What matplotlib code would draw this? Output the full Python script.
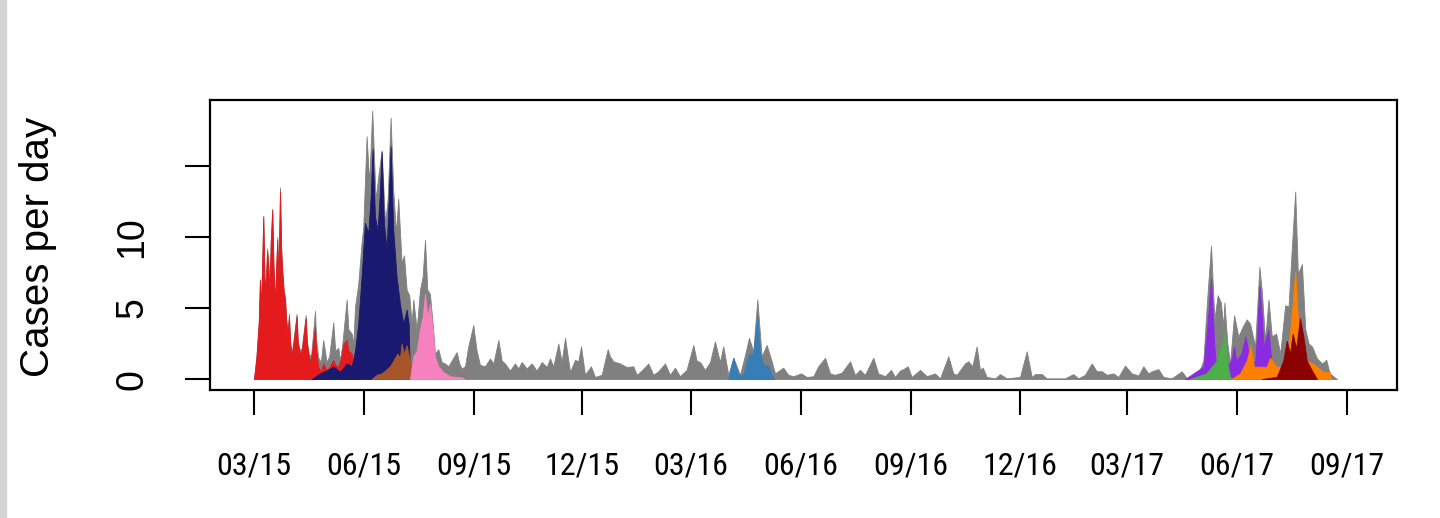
import numpy as np
import matplotlib
matplotlib.use("Agg")
import matplotlib.pyplot as plt
import matplotlib.dates as mdates
from matplotlib import font_manager as fm
from matplotlib.patches import Rectangle

plt.rcParams['font.family'] = ['Liberation Sans', 'DejaVu Sans']

start = np.datetime64('2015-03-01')

# daily case curves: days since 2015-03-01 and cases per day
total_days = [0, 2, 4, 5, 6, 7.8, 8.8, 9.8, 11, 12, 13, 14, 15.3, 16.3, 17.6, 18.5, 19.5, 20.5, 21.8, 22.8,
              23.7, 25, 26, 27, 28.2, 29.3, 30.3, 31.5, 33, 35.7, 36.7, 38.5, 40, 43.3, 44.3, 46.3, 48, 51.1,
              52, 53.9, 56, 58, 60.8, 63, 66.4, 68, 70.6, 72, 74, 77.6, 79, 81.8, 83.2, 84.6, 87.3, 90.1,
              91.5, 94.3, 96.5, 99, 101.9, 104.1, 106.9, 109.7, 111.9, 114.4, 116.6, 118.9, 120.8, 123.6,
              125.6, 127.8, 130, 132, 133.4, 136.2, 139, 141.2, 143.2, 145.1, 147.3, 149.6, 151.5, 154.3,
              157.1, 159.9, 162.7, 165.5, 169.7, 171.9, 173.9, 176.7, 179.4, 183.6, 186.4, 189.2, 193.4,
              197.6, 200.4, 204.6, 207.4, 210.1, 214.3, 218.5, 221.3, 224.1, 228.3, 232.5, 236.7, 240.9,
              245.1, 247.8, 250.6, 254.8, 257.6, 260.4, 264.6, 268.7, 271.5, 273.8, 277.1, 282.1, 285.5,
              291.1, 296.1, 298, 300.8, 306.4, 312, 317.6, 320.4, 324.6, 330.1, 334.3, 338.5, 344.1, 348.3,
              352.4, 356.6, 362.2, 367.8, 370.6, 373.4, 377.6, 381.8, 385.9, 390.1, 392.9, 397.1, 401.3,
              406.9, 411.1, 414.4, 418, 421.4, 425, 429.2, 433.4, 436.2, 443.1, 447.3, 451.5, 458, 462.7,
              468.3, 472.4, 478.1, 482.2, 486.4, 492, 499, 503.1, 507.3, 511.5, 518.5, 522.6, 528.3, 533.3,
              536.6, 540.8, 543.6, 547.3, 550.6, 557.6, 563.2, 570.1, 574.3, 581.3, 585.4, 588.3, 595.2,
              598, 601.4, 605, 607.8, 610.1, 613.4, 620.4, 624.5, 630.2, 641.3, 646.9, 651.1, 653.9, 659.5,
              663.7, 678.9, 685.9, 690.1, 695.7, 701.3, 705.5, 709.7, 713.9, 719.5, 723.6, 729.2, 734.8,
              740.4, 744.5, 748.7, 751.6, 757.1, 761.3, 768.3, 776.7, 780.9, 785.1, 790.7, 794.8, 798.1,
              801.2, 804, 806.8, 809.4, 811.5, 812.4, 814.9, 817.1, 820.5, 824.1, 827.8, 831.1, 833.9,
              838.1, 841.7, 843.7, 846.5, 849.3, 852.1, 855.7, 859.1, 863.3, 866.1, 868.9, 871.7, 873.9,
              877.3, 880.1, 882.9, 885.7, 889.9, 894.1, 897.7, 900.5, 906.6]
total_vals = [0, 1.5, 4, 7, 5, 11.5, 7.2, 6.7, 9.2, 8.2, 6.2, 9.7, 12.0, 8.2, 5.4, 7.7, 10, 7.2, 13.5, 9.2,
              7.7, 6.2, 5.8, 4.2, 3.4, 4.6, 2.7, 1.8, 2.7, 4.6, 2.7, 2.0, 2.2, 4.5, 2.7, 1.6, 1.8, 4.8,
              2.8, 1.5, 1.2, 2.75, 1.2, 1.6, 4.0, 2.0, 2.2, 1.3, 2.5, 5.6, 3.5, 3.2, 2.5, 5.1, 6.7, 9.6,
              10.7, 17.1, 13.8, 18.9, 12.6, 14.3, 16.1, 11.0, 12.6, 18.4, 13.3, 10.3, 12.7, 8.2,
              8.7, 6.3, 5.9, 3.9, 5.6, 3.5, 6.3, 7.2, 9.8, 6.3, 6.0, 3.9, 1.8, 2.1,
              1.2, 1.1, 0.9, 1.3, 1.9, 1.1, 0.75, 0.9, 2.3, 3.8, 2.0, 1.0, 0.9,
              1.45, 1.1, 2.75, 1.3, 1.1, 0.6, 1.1, 0.75, 1.2, 0.75, 1.1, 0.6, 1.2,
              0.85, 1.45, 0.9, 2.5, 1.2, 2.9, 0.5, 1.35, 1.25, 2.3, 0.3, 0.9, 0.15,
              0.3, 2.1, 1.6, 1.25, 1.1, 0.85, 0.9, 0.3, 0.6, 1.1, 0.3, 0.55, 1.1, 0.3,
              0.8, 0.2, 0.65, 2.4, 1.3, 1.2, 0.65, 1.2, 2.65, 1.2, 2.3, 0.3, 1.5,
              0.3, 1.7, 2.9, 1.95, 5.6, 1.6, 2.4, 1.25, 0.4, 0.8, 0.3, 0.2, 0.4, 0.15,
              0.2, 0.9, 1.5, 0.4, 0.3, 0.45, 1.25, 0.3, 0.65, 0.3, 1.5, 0.4, 0.2, 0.65,
              0.15, 0.6, 0.7, 0.9, 0.15, 0.65, 0.2, 0.4, 0.05, 1.6, 0.4, 0.3, 1.1,
              1.25, 0.9, 2.3, 0.65, 0.8, 0.15, 0.05, 0.35, 0.05, 0.15, 1.95, 0.15, 0.35, 0.35,
              0.05, 0.05, 0.35, 0.05, 0.3, 1.1, 0.55, 0.55, 0.3, 0.4, 0.15, 0.95, 0.4,
              0.25, 0.9, 0.4, 0.55, 0.7, 0.15, 0.05, 0.55, 0.05, 0.05, 0.4, 1.3, 5.8,
              9.4, 4.2, 5.9, 5.4, 3.7, 5.4, 2.5, 1.1, 4.5, 3.0, 3.7, 4.2, 3.9,
              2.3, 7.9, 6.2, 2.7, 5.6, 3.0, 3.2, 1.8, 5.2, 5.1, 9.3, 13.2, 7.4,
              8.1, 3.5, 2.5, 2.3, 1.45, 1.1, 1.35, 0.4, 0]

red_days = [0, 2, 4, 5, 6, 7.8, 8.8, 9.8, 11, 12, 13, 14, 15.3, 16.3, 17.6, 18.5, 19.5, 20.5, 21.8, 22.8,
            23.7, 25, 26, 27, 28.2, 29.3, 30.3, 31.5, 33, 35.7, 36.7, 38.5, 40, 43.3, 44.3, 46.3, 48, 51.1,
            52, 53.9, 56, 58, 60.8, 63, 66.4, 68, 70.6, 73, 75, 77.6, 79, 81.8, 83.2]
red_vals = [0, 1.5, 4, 7, 5, 11.4, 7, 6.5, 9, 8, 6, 9.5, 11.9, 8, 5.2, 7.5, 9.8, 7, 13.2, 9,
            7.5, 6, 5.6, 4, 3.2, 4.4, 2.5, 1.6, 2.5, 4.4, 2.5, 1.8, 2, 4.3, 2.5, 1.35, 1.5, 3.7,
            2, 0.87, 0.5, 1.1, 0.63, 0.8, 1.35, 1, 0.87, 1.5, 2.5, 2.75, 2, 1.8, 0]

navy_days = [48.3, 55.3, 60.8, 66.4, 72, 77.6, 81.8, 84.6, 87.3, 90.1, 92.9, 95.7, 97.7, 99.3, 101.3,
             103.5, 105.5, 106.9, 108.8, 111.1, 112.7, 114.4, 116.6, 119.4, 122.2, 125, 127.8, 129.5, 130.6]
navy_vals = [0, 0.4, 0.6, 0.9, 0.5, 1.1, 0.9, 2.0, 3.9, 7.2, 11.0, 10.3, 12.8, 16.2, 11.4,
             10.5, 13.3, 16.0, 11.0, 9.1, 12.6, 16.4, 10.5, 7.2, 5.3, 3.9, 4.9, 3.9, 0]

brown_days = [98.5, 102.7, 106.9, 109.7, 113.9, 116.6, 120, 122.2, 123.6, 125.6, 127.8, 130, 133.4,
              139, 164.1, 164.5]
brown_vals = [0, 0.3, 0.4, 0.6, 0.9, 1.3, 1.8, 1.5, 2.5, 1.8, 2.4, 1.5, 0.4, 0.2, 0.1, 0]

pink_days = [130.6, 133.4, 136.2, 139, 141.2, 143.2, 145.1, 147.3, 149.6, 151.5, 154.3, 158.5, 164.1,
             175.2, 175.8]
pink_vals = [0, 1.6, 2.0, 3.5, 4.4, 6.0, 4.4, 5.3, 3.5, 1.6, 0.9, 0.5, 0.2, 0.1, 0]

blue_days = [397.1, 401.3, 405.5, 409.7, 413.9, 418, 421.4, 423.6, 426.4, 430.1, 433.4, 435.6]
blue_vals = [0, 1.5, 0.3, 0.3, 1.7, 1.8, 4.5, 1.8, 1.0, 1.0, 0.3, 0]

purple_days = [779.3, 794.8, 798.1, 801.2, 804, 806, 808.6, 814.3, 818.3, 820.5, 822.3, 826.5, 830.1,
               833.9, 838.1, 840.1, 841.7, 843.7, 845.1, 849.3, 852.1, 853.5]
purple_vals = [0, 0.87, 3.7, 7.1, 2.3, 0.4, 0.4, 0.87, 1.3, 2.3, 1.3, 1.8, 3.0,
               1.3, 1.2, 3.5, 6.6, 4.5, 2.3, 3.5, 0.87, 0]

green_days = [783.3, 797.3, 806, 808.6, 810.7, 812.7, 814.3, 817.1, 819.9]
green_vals = [0, 0.4, 1.3, 2.0, 2.5, 3.3, 1.3, 0.16, 0]

orange_days = [818.3, 825.5, 831.1, 834.4, 837.2, 842.2, 847.8, 850.6, 856.2, 861.7, 866.1, 868.9,
               871.7, 873.9, 877.3, 880.1, 884.1, 889.9, 895.2, 900.5, 901.6]
orange_vals = [0, 0.4, 1.3, 2.4, 0.87, 0.87, 0.87, 1.5, 0.87, 0.87, 2.3, 4.6,
               7.6, 4.2, 2.3, 1.3, 1.2, 0.87, 0.5, 0.5, 0]

darkred_days = [843.7, 856.2, 861.7, 864.6, 867.3, 869.6, 872.4, 875.7, 878.5, 881.3, 885.7, 889.9]
darkred_vals = [0, 0.16, 1.3, 2.7, 1.8, 3.2, 2.15, 4.3, 3.0, 1.3, 0.6, 0]

series = [
    (total_days, total_vals, '#808080'),
    (red_days, red_vals, '#E41A1C'),
    (navy_days, navy_vals, '#191970'),
    (brown_days, brown_vals, '#A65628'),
    (pink_days, pink_vals, '#F781BF'),
    (blue_days, blue_vals, '#377EB8'),
    (purple_days, purple_vals, '#8A2BE2'),
    (green_days, green_vals, '#4DAF4A'),
    (orange_days, orange_vals, '#FF7F00'),
    (darkred_days, darkred_vals, '#8B0000'),
]

tick_dates = ['2015-03-01', '2015-06-01', '2015-09-01', '2015-12-01', '2016-03-01', '2016-06-01',
              '2016-09-01', '2016-12-01', '2017-03-01', '2017-06-01', '2017-09-01']
y_ticks = [0, 5, 10, 15]
y_ticklabels = ['0', '5', '10', '']


def to_dates(days):
    return start + (np.array(days) * 24 * 3600).astype('timedelta64[s]')


def narrow_font():
    # look for any condensed / narrow face that happens to be installed
    prefer = ['Liberation Sans Narrow', 'Roboto Condensed', 'Open Sans Condensed', 'Noto Sans',
              'DejaVu Sans', 'Roboto', 'Open Sans']
    found = []
    for f in fm.fontManager.ttflist:
        narrow = ('Narrow' in f.name or 'Condensed' in f.name
                  or str(f.stretch) in ('condensed', 'semi-condensed', 'extra-condensed', '500', '300'))
        if narrow and f.style == 'normal' and f.weight in (400, 'normal', 'regular', 'book'):
            found.append(f)
    for name in prefer:
        for f in found:
            if f.name.startswith(name):
                return f.fname
    return found[0].fname if found else None


fig = plt.figure(figsize=(14.4, 5.18), dpi=100)
ax = fig.add_axes([210 / 1440, 1 - 390 / 518, (1397 - 210) / 1440, 290 / 518])

for days, vals, col in series:
    ax.fill_between(to_dates(days), 0, vals, color=col, lw=0.6)

ax.set_xlim(to_dates([-36.8])[0], to_dates([956.9])[0])
ax.set_ylim(-0.77, 19.65)

path = narrow_font()
if path:
    xprop = fm.FontProperties(fname=path, size=23)
else:
    xprop = fm.FontProperties(family='Liberation Sans', size=19)

ax.set_xticks(to_dates([(np.datetime64(d) - start).astype(int) for d in tick_dates]))
ax.xaxis.set_major_formatter(mdates.DateFormatter('%m/%y'))
for lab in ax.get_xticklabels():
    lab.set_fontproperties(xprop)
ax.set_yticks(y_ticks)
ax.set_yticklabels(y_ticklabels, rotation=90, va='center', fontsize=27)

ax.tick_params(axis='both', direction='out', length=18, width=1.5, color='black')
ax.tick_params(axis='x', pad=26)
ax.tick_params(axis='y', pad=25)
for sp in ax.spines.values():
    sp.set_linewidth(1.6)

fig.text(38 / 1440, 1 - 247 / 518, 'Cases per day', rotation=90, ha='center', va='center', fontsize=29)

# light grey edge of the screenshot frame
fig.patches.append(Rectangle((0, 0), 6 / 1440, 1, transform=fig.transFigure, color='#d3d3d3', zorder=0))

fig.savefig('out.png', dpi=100)
